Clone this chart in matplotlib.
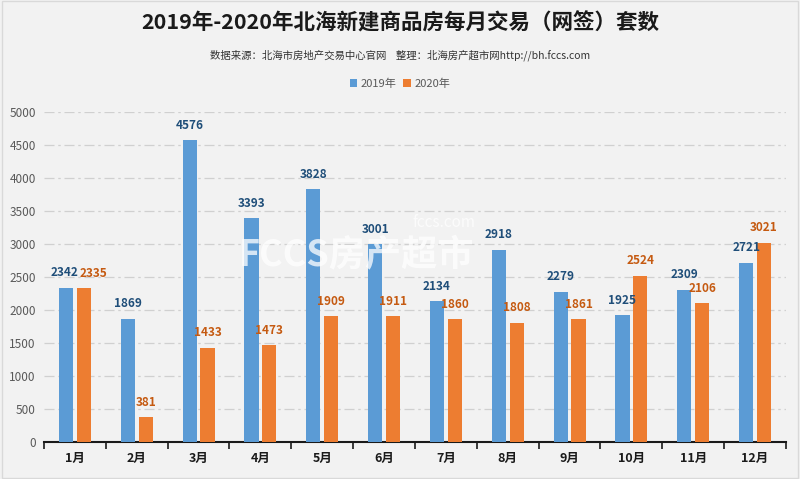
import matplotlib
matplotlib.use("Agg")
import matplotlib.pyplot as plt
import numpy as np

plt.rcParams['font.family'] = ['Noto Sans CJK SC', 'DejaVu Sans']

months = ["1月", "2月", "3月", "4月", "5月", "6月", "7月", "8月", "9月", "10月", "11月", "12月"]
v2019 = [2342, 1869, 4576, 3393, 3828, 3001, 2134, 2918, 2279, 1925, 2309, 2721]
v2020 = [2335, 381, 1433, 1473, 1909, 1911, 1860, 1808, 1861, 2524, 2106, 3021]
yticks = [0, 500, 1000, 1500, 2000, 2500, 3000, 3500, 4000, 4500, 5000]

bg = "#f2f2f2"
fig = plt.figure(figsize=(8, 4.79), dpi=100, facecolor=bg)
ax = fig.add_axes([0.055, 0.077, 0.9275, 0.689], facecolor=bg)

x = np.arange(len(months))
w = 0.23
gap = 0.03
b1 = ax.bar(x - w/2 - gap, v2019, w, color="#5b9bd5", label="2019年", zorder=3)
b2 = ax.bar(x + w/2 + gap, v2020, w, color="#ed7d31", label="2020年", zorder=3)

# small horizontal nudges (points) to keep close labels apart, as in the reference
dx19 = [-1, 0, 0, 0, 0, 0, 0, 0, 0, 0, 0, 0]
dx20 = [7, 0, 0, 0, 0, 0, 0, 0, 0, 0, 0, 0]

for xi, v, d in zip(x - w/2 - gap, v2019, dx19):
    ax.annotate(str(v), (xi, v), xytext=(d, 6), textcoords="offset points",
                ha="center", va="bottom", fontsize=8.5, fontweight="bold", color="#1f4e79", zorder=5)
for xi, v, d in zip(x + w/2 + gap, v2020, dx20):
    ax.annotate(str(v), (xi, v), xytext=(d, 6), textcoords="offset points",
                ha="center", va="bottom", fontsize=8.5, fontweight="bold", color="#c55a11", zorder=5)

ax.set_xlim(-0.5, len(months) - 0.5)
ax.set_ylim(0, 5000)
ax.set_yticks(yticks)
ax.set_yticklabels([str(t) for t in yticks], fontsize=8.5, color="#595959")
ax.tick_params(axis="y", length=0, pad=6)
ax.yaxis.grid(True, color="#d0d0d0", linestyle=(0, (8, 3, 2, 3)), linewidth=0.9, zorder=0)

ax.set_xticks(x)
ax.set_xticklabels(months, fontsize=9, fontweight="bold", color="#1a1a1a")
ax.tick_params(axis="x", length=0, pad=7)
ax.set_xticks(np.arange(-0.5, len(months), 1), minor=True)
ax.tick_params(axis="x", which="minor", length=5, width=1.2, color="#1a1a1a", direction="out")

for s in ["top", "right", "left"]:
    ax.spines[s].set_visible(False)
ax.spines["bottom"].set_color("#1a1a1a")
ax.spines["bottom"].set_linewidth(1.5)

# watermark
fig.text(0.445, 0.465, "FCCS房产超市", fontsize=26, fontweight="bold", color="white",
         alpha=0.75, ha="center", va="center", zorder=10)
fig.text(0.555, 0.535, "fccs.com", fontsize=11, color="white", alpha=0.75,
         ha="center", va="center", zorder=10)

fig.text(0.5, 0.953, "2019年-2020年北海新建商品房每月交易（网签）套数", fontsize=15.5,
         fontweight="bold", color="#1a1a1a", ha="center", va="center")
fig.text(0.5, 0.885, "数据来源：北海市房地产交易中心官网    整理：北海房产超市网http://bh.fccs.com",
         fontsize=7.5, color="#333333", ha="center", va="center")

leg = fig.legend(handles=[b1, b2], loc="center", bbox_to_anchor=(0.5, 0.826), ncol=2,
                 frameon=False, fontsize=8, handlelength=0.7, handleheight=0.7,
                 handletextpad=0.3, columnspacing=0.6)
for t in leg.get_texts():
    t.set_color("#595959")

# border
fig.patches.append(plt.Rectangle((0.002, 0.002), 0.996, 0.996, transform=fig.transFigure,
                                 fill=False, edgecolor="#d9d9d9", linewidth=1))

fig.savefig("out.png", dpi=100, facecolor=bg)
